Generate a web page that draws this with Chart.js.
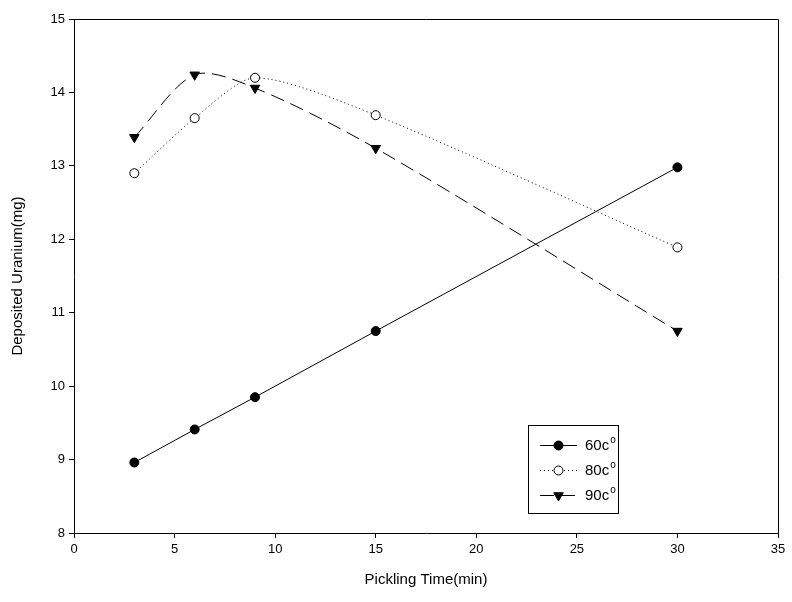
<!DOCTYPE html>
<html>
<head>
<meta charset="utf-8">
<script src="https://cdn.jsdelivr.net/npm/chart.js@4.4.1/dist/chart.umd.min.js"></script>
<style>
  html, body { margin: 0; padding: 0; background: #fff; }
  #wrap { width: 792px; height: 602px; }
</style>
</head>
<body>
<div id="wrap"><canvas id="uChart" width="792" height="602"></canvas></div>
<script>
// Data
const times = [3, 6, 9, 15, 30];
const u60 = [8.96, 9.41, 9.85, 10.75, 12.98];
const u80 = [12.9, 13.65, 14.2, 13.69, 11.89];
const u90 = [13.39, 14.24, 14.06, 13.24, 10.75];
const seriesNames = ['60c', '80c', '90c'];
const xTicks = [0, 5, 10, 15, 20, 25, 30, 35];
const yTicks = [8, 9, 10, 11, 12, 13, 14, 15];

const font = 'Liberation Sans, Arial, sans-serif';

function toPoints(ys) {
    return times.map((t, i) => ({ x: t, y: ys[i] }));
}

// top / right frame lines and the boxed legend with superscript degree
const framePlugin = {
    id: 'frame',
    afterDraw(chart) {
        const { ctx, chartArea: a } = chart;
        ctx.save();
        ctx.strokeStyle = '#000';
        ctx.lineWidth = 1;
        ctx.beginPath();
        ctx.moveTo(a.left, a.top + 0.5);
        ctx.lineTo(a.right + 0.5, a.top + 0.5);
        ctx.lineTo(a.right + 0.5, a.bottom);
        ctx.stroke();

        // legend
        ctx.strokeRect(528.5, 425.5, 90, 88);
        const rows = [445, 470, 495];
        chart.data.datasets.forEach((ds, i) => {
            const y = rows[i];
            ctx.save();
            ctx.strokeStyle = '#000';
            ctx.lineWidth = 1;
            ctx.setLineDash(ds.borderDash || []);
            ctx.beginPath();
            ctx.moveTo(540, y + 0.5);
            ctx.lineTo(577, y + 0.5);
            ctx.stroke();
            ctx.restore();

            ctx.fillStyle = ds.pointBackgroundColor;
            ctx.strokeStyle = '#000';
            ctx.lineWidth = 1;
            Chart.helpers.drawPoint(ctx, {
                pointStyle: ds.pointStyle,
                radius: ds.pointRadius,
                rotation: ds.pointRotation || 0,
                borderWidth: 1
            }, 558.5, y + 0.5);

            ctx.fillStyle = '#000';
            ctx.font = '15px ' + font;
            ctx.textBaseline = 'middle';
            ctx.textAlign = 'left';
            ctx.fillText(seriesNames[i], 585, y + 1);
            const w = ctx.measureText(seriesNames[i]).width;
            ctx.font = '10px ' + font;
            ctx.fillText('o', 585 + w + 1, y - 5);
        });
        ctx.restore();
    }
};

new Chart(document.getElementById('uChart'), {
    type: 'line',
    data: {
        datasets: [
            {
                label: seriesNames[0],
                data: toPoints(u60),
                borderColor: '#000',
                borderWidth: 1,
                tension: 0,
                pointStyle: 'circle',
                pointRadius: 4.5,
                pointBackgroundColor: '#000',
                pointBorderColor: '#000',
                pointBorderWidth: 1
            },
            {
                label: seriesNames[1],
                data: toPoints(u80),
                borderColor: '#000',
                borderWidth: 1,
                borderDash: [1, 3],
                tension: 0.25,
                pointStyle: 'circle',
                pointRadius: 4.5,
                pointBackgroundColor: '#fff',
                pointBorderColor: '#000',
                pointBorderWidth: 1
            },
            {
                label: seriesNames[2],
                data: toPoints(u90),
                borderColor: '#000',
                borderWidth: 1,
                borderDash: [14, 7],
                tension: 0.3,
                pointStyle: 'triangle',
                pointRotation: 180,
                pointRadius: 5.5,
                pointBackgroundColor: '#000',
                pointBorderColor: '#000',
                pointBorderWidth: 1
            }
        ]
    },
    options: {
        responsive: false,
        animation: false,
        layout: { padding: { top: 19, right: 14, left: 0, bottom: 0 } },
        plugins: {
            legend: { display: false },
            tooltip: { enabled: false }
        },
        scales: {
            x: {
                type: 'linear',
                min: 0,
                max: 35,
                afterFit(scale) { scale.height = 69; },
                afterBuildTicks(scale) { scale.ticks = xTicks.map(v => ({ value: v })); },
                grid: {
                    drawOnChartArea: false,
                    drawTicks: true,
                    tickLength: 5,
                    color: '#000'
                },
                border: { display: true, color: '#000', width: 1 },
                ticks: {
                    color: '#000',
                    padding: 4,
                    maxRotation: 0,
                    font: { family: font, size: 13 }
                },
                title: {
                    display: true,
                    text: 'Pickling Time(min)',
                    color: '#000',
                    font: { family: font, size: 15 },
                    padding: { top: 0, bottom: 13 }
                }
            },
            y: {
                type: 'linear',
                min: 8,
                max: 15,
                afterFit(scale) { scale.width = 74; },
                afterBuildTicks(scale) { scale.ticks = yTicks.map(v => ({ value: v })); },
                grid: {
                    drawOnChartArea: false,
                    drawTicks: true,
                    tickLength: 5,
                    color: '#000'
                },
                border: { display: true, color: '#000', width: 1 },
                ticks: {
                    color: '#000',
                    padding: 4,
                    font: { family: font, size: 13 }
                },
                title: {
                    display: true,
                    text: 'Deposited Uranium(mg)',
                    color: '#000',
                    font: { family: font, size: 15 },
                    padding: { top: 9, bottom: 0 }
                }
            }
        }
    },
    plugins: [framePlugin]
});
</script>
</body>
</html>
